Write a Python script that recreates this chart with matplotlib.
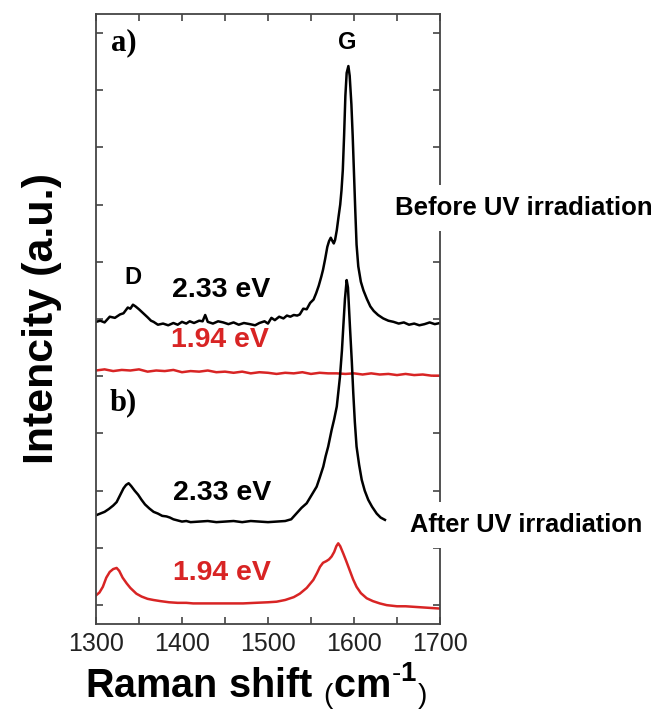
import matplotlib.pyplot as plt
from matplotlib.ticker import MultipleLocator

plt.rcParams['font.family'] = ['Liberation Sans', 'DejaVu Sans']
plt.rcParams['mathtext.fontset'] = 'custom'
plt.rcParams['mathtext.rm'] = 'Liberation Sans'
plt.rcParams['mathtext.bf'] = 'Liberation Sans:bold'

# spectra (offset intensities, a.u.)
before_233_x = [1300, 1305, 1310, 1316, 1322, 1328, 1332, 1337, 1340, 1343, 1346, 1350,
                1355, 1360, 1364, 1367, 1372, 1378, 1384, 1390, 1395, 1400, 1405, 1409,
                1414, 1420, 1424, 1427, 1430, 1436, 1442, 1448, 1454, 1460, 1466, 1472,
                1479, 1485, 1490, 1496, 1500, 1504, 1508, 1513, 1518, 1522, 1526, 1530,
                1534, 1537, 1541, 1545, 1549, 1553, 1556, 1559, 1562, 1564, 1566.5, 1569,
                1571, 1573, 1575, 1576.5, 1578, 1580, 1582, 1584, 1585.5, 1587, 1588.5,
                1590, 1591.5, 1593.5, 1595, 1597, 1598.5, 1600, 1601.5, 1603, 1605, 1608,
                1611, 1615, 1619, 1623, 1628, 1634, 1640, 1646, 1652, 1658, 1664, 1670,
                1676, 1682, 1688, 1694, 1700]
before_233_y = [4.95, 4.97, 4.94, 5.04, 5.02, 5.08, 5.10, 5.20, 5.18, 5.25, 5.22, 5.17,
                5.10, 5.03, 4.97, 4.95, 4.90, 4.92, 4.89, 4.93, 4.90, 4.95, 4.92, 4.96,
                4.93, 4.97, 4.96, 5.07, 4.95, 4.92, 4.96, 4.94, 4.91, 4.94, 4.90, 4.93,
                4.91, 4.89, 4.93, 4.96, 4.92, 5.02, 4.98, 5.04, 5.01, 5.06, 5.04, 5.07,
                5.06, 5.08, 5.18, 5.17, 5.28, 5.34, 5.45, 5.58, 5.74, 5.86, 6.05, 6.26,
                6.36, 6.42, 6.36, 6.32, 6.38, 6.55, 6.78, 7.00, 7.25, 7.60, 8.20,
                8.90, 9.30, 9.42, 9.25, 8.75, 8.20, 7.55, 6.90, 6.30, 5.92, 5.65,
                5.50, 5.35, 5.22, 5.14, 5.07, 5.01, 4.97, 4.95, 4.92, 4.94, 4.90, 4.92,
                4.89, 4.91, 4.94, 4.91, 4.93]

before_194_x = [1300, 1310, 1320, 1330, 1340, 1350, 1360, 1370, 1380, 1390, 1400, 1410,
                1420, 1430, 1440, 1450, 1460, 1470, 1480, 1490, 1500, 1510, 1520, 1530,
                1540, 1550, 1560, 1570, 1580, 1590, 1600, 1610, 1620, 1630, 1640, 1650,
                1660, 1670, 1680, 1690, 1700]
before_194_y = [4.10, 4.12, 4.09, 4.11, 4.10, 4.12, 4.08, 4.10, 4.09, 4.11, 4.07, 4.09,
                4.08, 4.10, 4.07, 4.08, 4.06, 4.08, 4.05, 4.07, 4.06, 4.04, 4.06, 4.05,
                4.07, 4.04, 4.06, 4.05, 4.05, 4.04, 4.05, 4.03, 4.05, 4.03, 4.04, 4.02,
                4.04, 4.02, 4.03, 4.01, 4.01]

after_233_x = [1300, 1305, 1310, 1315, 1320, 1324, 1328, 1332, 1335, 1338, 1341, 1345,
               1349, 1353, 1357, 1362, 1367, 1372, 1377, 1382, 1386, 1390, 1395, 1400,
               1405, 1410, 1420, 1430, 1440, 1450, 1460, 1470, 1480, 1490, 1500, 1510,
               1520, 1527, 1533, 1539, 1545, 1551, 1556.6, 1560, 1564.3, 1567, 1570,
               1574, 1577, 1580, 1582, 1583.7, 1586, 1587.6, 1589.5, 1591.5, 1593,
               1595.3, 1597.5, 1599.2, 1601, 1603, 1606, 1609, 1612.5, 1616.6, 1621,
               1626.4, 1631, 1636]
after_233_y = [1.57, 1.60, 1.63, 1.68, 1.74, 1.80, 1.92, 2.04, 2.10, 2.13, 2.08, 2.00,
               1.93, 1.84, 1.76, 1.69, 1.63, 1.60, 1.56, 1.55, 1.53, 1.50, 1.48, 1.46,
               1.47, 1.45, 1.46, 1.47, 1.45, 1.46, 1.47, 1.45, 1.47, 1.46, 1.45, 1.46,
               1.47, 1.50, 1.60, 1.70, 1.78, 1.93, 2.07, 2.22, 2.42, 2.60, 2.77,
               3.06, 3.25, 3.47, 3.75, 3.99, 4.45, 4.87, 5.35, 5.68, 5.55,
               4.87, 4.25, 3.70, 3.20, 2.77, 2.45, 2.19, 2.00, 1.84, 1.72,
               1.60, 1.53, 1.49]

after_194_x = [1300, 1304, 1308, 1312, 1316, 1320, 1324, 1327, 1331, 1335.7, 1340, 1347,
               1353, 1360, 1366.7, 1375, 1385, 1395, 1405, 1413, 1425, 1440, 1455, 1471,
               1485, 1500, 1510, 1520, 1530, 1537, 1545, 1552.7, 1557, 1560.5, 1564,
               1568, 1571, 1574, 1577, 1579.5, 1581.7, 1584, 1587.6, 1591, 1595, 1599,
               1603, 1608, 1614.8, 1622, 1630, 1638, 1650, 1660, 1670, 1680, 1690, 1700]
after_194_y = [0.17, 0.22, 0.32, 0.48, 0.58, 0.63, 0.65, 0.60, 0.48, 0.38, 0.30, 0.20,
               0.15, 0.11, 0.09, 0.07, 0.05, 0.04, 0.04, 0.03, 0.03, 0.03, 0.03, 0.03,
               0.04, 0.05, 0.06, 0.09, 0.14, 0.20, 0.30, 0.44, 0.56, 0.67, 0.74,
               0.77, 0.80, 0.85, 0.93, 1.03, 1.08, 1.03, 0.90, 0.77, 0.61, 0.45,
               0.32, 0.21, 0.12, 0.07, 0.03, 0.00, -0.02, -0.02, -0.03, -0.04, -0.05, -0.06]

x_ticks = [1300, 1400, 1500, 1600, 1700]
red = '#d82424'

fig = plt.figure(figsize=(6.56, 7.13), dpi=100)
ax = fig.add_axes([0.1463, 0.1248, 0.5244, 0.8556])

ax.plot(before_233_x, before_233_y, color='black', lw=1.8)
ax.plot(before_194_x, before_194_y, color=red, lw=1.8)
ax.plot(after_233_x, after_233_y, color='black', lw=1.8)
ax.plot(after_194_x, after_194_y, color=red, lw=1.8)

ax.set_xlim(1300, 1700)
ax.set_ylim(-0.33, 10.33)
ax.set_xticks(x_ticks)
ax.set_xticklabels([str(t) for t in x_ticks])
ax.xaxis.set_minor_locator(MultipleLocator(50))
ax.yaxis.set_major_locator(MultipleLocator(1))
ax.tick_params(axis='both', which='both', direction='in', top=True, right=True,
               length=5, width=1.2, color='#444444')
ax.tick_params(axis='y', labelleft=False)
ax.tick_params(axis='x', labelsize=18, labelcolor='#222222', pad=6)
for s in ax.spines.values():
    s.set_color('#444444')
    s.set_linewidth(1.3)

ax.set_xlabel(r'Raman shift $_{\mathrm{(}}\mathbf{cm}^{\mathbf{\text{-}1}}{}_{\mathrm{)}}$',
              fontsize=28.5, fontweight='bold', labelpad=3)
ax.xaxis.label.set_x(0.465)
ax.set_ylabel('Intencity (a.u.)', fontsize=31, fontweight='bold')
ax.yaxis.set_label_coords(-0.10, 0.5)

serif = ['Liberation Serif', 'DejaVu Serif']
ax.text(1317, 9.83, 'a)', family=serif, fontsize=22, fontweight='bold', va='center')
ax.text(1316, 3.53, 'b)', family=serif, fontsize=22, fontweight='bold', va='center')
ax.text(1592, 9.83, 'G', fontsize=17, fontweight='bold', ha='center', va='center')
ax.text(1343, 5.72, 'D', fontsize=17, fontweight='bold', ha='center', va='center')
ax.text(1446, 5.51, '2.33 eV', fontsize=20.5, fontweight='bold', ha='center', va='center')
ax.text(1444, 4.63, '1.94 eV', fontsize=20.5, fontweight='bold', ha='center', va='center', color=red)
ax.text(1447, 1.96, '2.33 eV', fontsize=20.5, fontweight='bold', ha='center', va='center')
ax.text(1446, 0.56, '1.94 eV', fontsize=20.5, fontweight='bold', ha='center', va='center', color=red)

box = dict(facecolor='white', edgecolor='none', pad=8)
ax.text(1647.7, 6.94, 'Before UV irradiation', fontsize=18.5, fontweight='bold',
        va='center', ha='left', bbox=box, clip_on=False)
ax.text(1665, 1.40, 'After UV irradiation', fontsize=18.3, fontweight='bold',
        va='center', ha='left', bbox=box, clip_on=False)

fig.savefig('out.png', dpi=100)
